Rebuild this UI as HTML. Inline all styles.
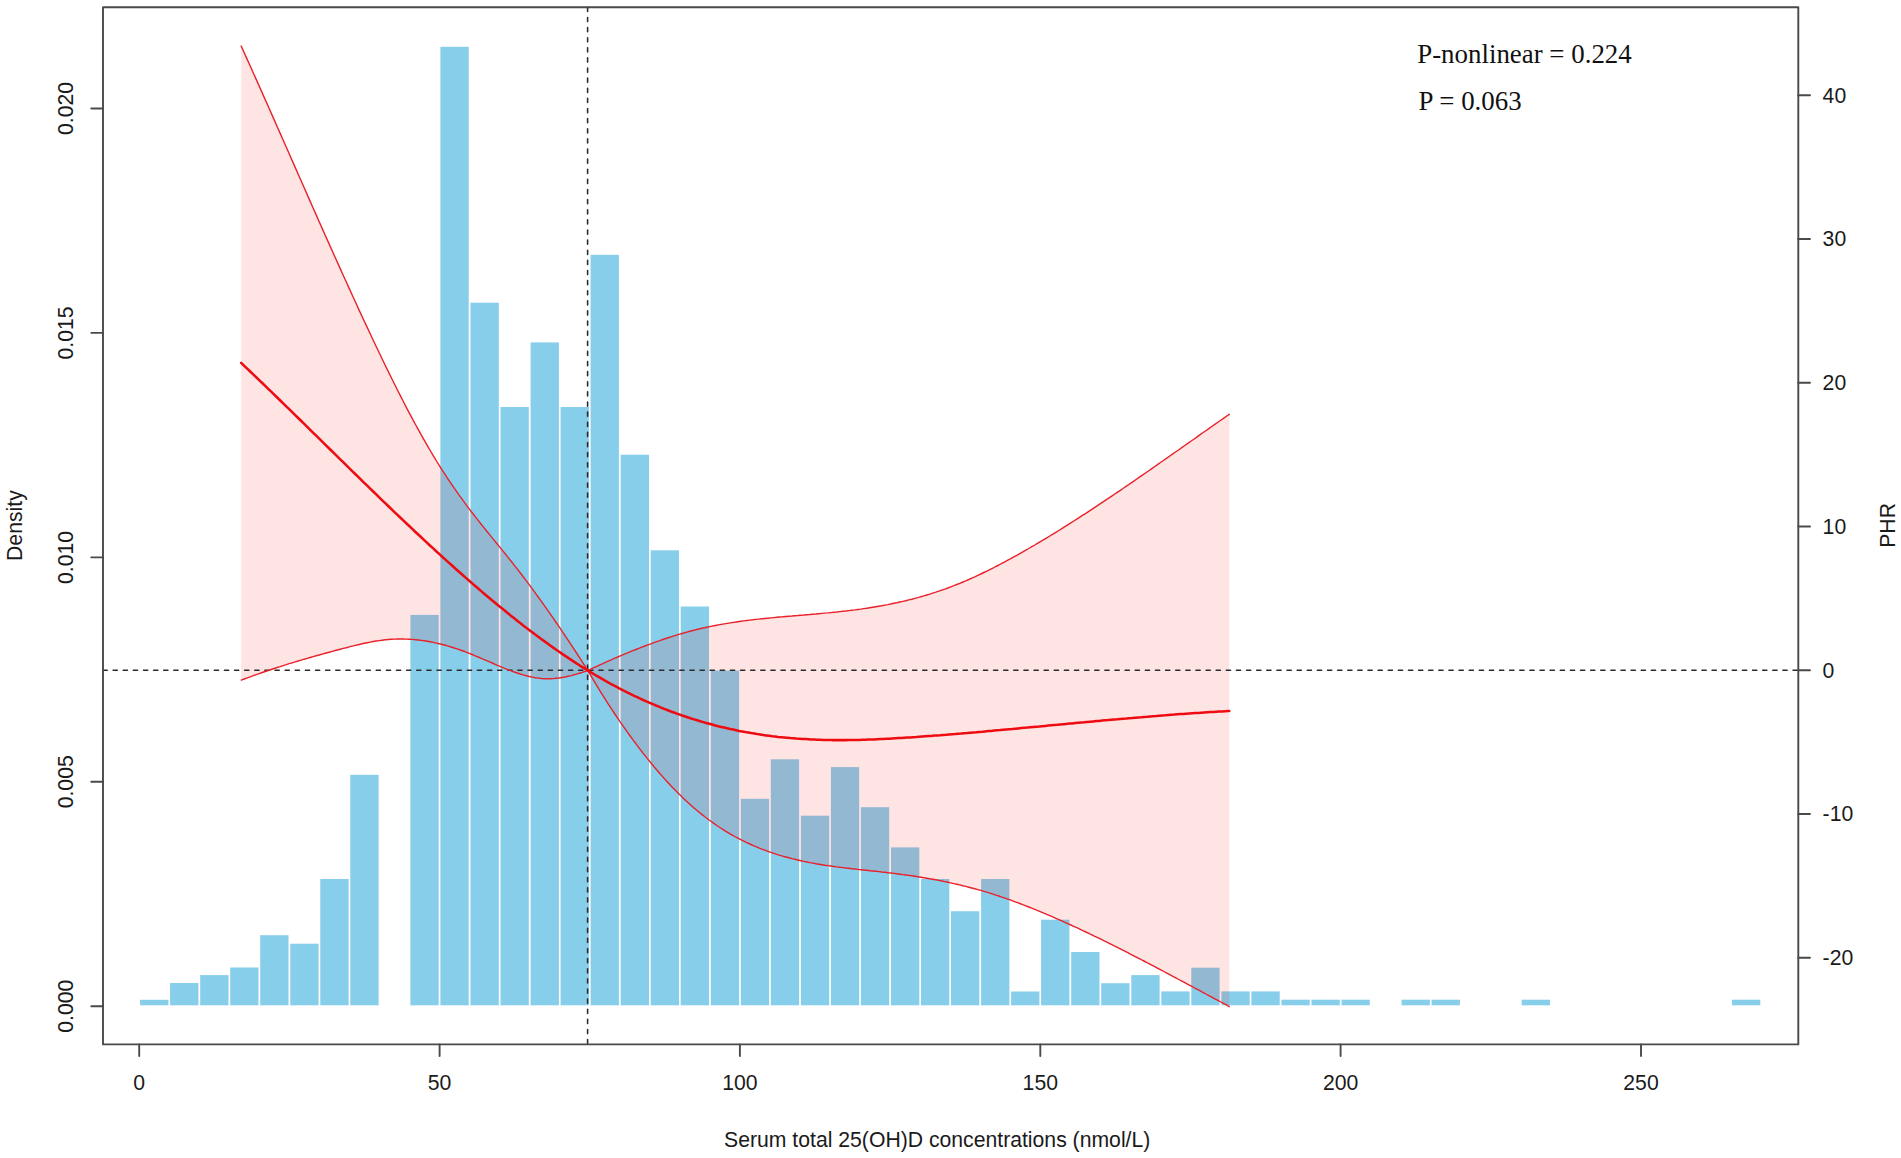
<!DOCTYPE html>
<html lang="en"><head><meta charset="utf-8"><title>RCS plot: serum total 25(OH)D vs PHR</title>
<style>
html,body{margin:0;padding:0;background:#fff;}
svg{display:block;width:1901px;height:1158px;}
.ax{font-family:"Liberation Sans",Arial,Helvetica,sans-serif;font-size:21.2px;fill:#1a1a1a;}
.note{font-family:"Liberation Serif","Times New Roman",Times,serif;font-size:26.9px;fill:#111;}
</style></head><body>
<svg width="1901" height="1158" viewBox="0 0 1901 1158">
<rect x="0" y="0" width="1901" height="1158" fill="#fff"/>
<g>
<g fill="#87ceeb">
<rect x="140.1" y="999.8" width="28.3" height="5.5"/>
<rect x="170.1" y="983.0" width="28.3" height="22.3"/>
<rect x="200.2" y="975.1" width="28.3" height="30.2"/>
<rect x="230.2" y="967.5" width="28.3" height="37.8"/>
<rect x="260.2" y="935.2" width="28.3" height="70.1"/>
<rect x="290.3" y="943.7" width="28.3" height="61.6"/>
<rect x="320.3" y="879.0" width="28.3" height="126.3"/>
<rect x="350.3" y="774.8" width="28.3" height="230.5"/>
<rect x="410.4" y="614.9" width="28.3" height="390.4"/>
<rect x="440.4" y="46.8" width="28.3" height="958.5"/>
<rect x="470.5" y="302.7" width="28.3" height="702.6"/>
<rect x="500.5" y="407.0" width="28.3" height="598.3"/>
<rect x="530.6" y="342.4" width="28.3" height="662.9"/>
<rect x="560.6" y="407.0" width="28.3" height="598.3"/>
<rect x="590.6" y="254.8" width="28.3" height="750.5"/>
<rect x="620.7" y="454.7" width="28.3" height="550.6"/>
<rect x="650.7" y="550.3" width="28.3" height="455.0"/>
<rect x="680.7" y="606.5" width="28.3" height="398.8"/>
<rect x="710.8" y="670.6" width="28.3" height="334.7"/>
<rect x="740.8" y="798.8" width="28.3" height="206.5"/>
<rect x="770.8" y="759.3" width="28.3" height="246.0"/>
<rect x="800.9" y="815.7" width="28.3" height="189.6"/>
<rect x="830.9" y="767.1" width="28.3" height="238.2"/>
<rect x="860.9" y="807.2" width="28.3" height="198.1"/>
<rect x="891.0" y="847.4" width="28.3" height="157.9"/>
<rect x="921.0" y="879.0" width="28.3" height="126.3"/>
<rect x="951.0" y="911.2" width="28.3" height="94.1"/>
<rect x="981.1" y="879.0" width="28.3" height="126.3"/>
<rect x="1011.1" y="991.5" width="28.3" height="13.8"/>
<rect x="1041.1" y="919.7" width="28.3" height="85.6"/>
<rect x="1071.2" y="952.0" width="28.3" height="53.3"/>
<rect x="1101.2" y="983.2" width="28.3" height="22.1"/>
<rect x="1131.3" y="975.1" width="28.3" height="30.2"/>
<rect x="1161.3" y="991.4" width="28.3" height="13.9"/>
<rect x="1191.3" y="967.7" width="28.3" height="37.6"/>
<rect x="1221.4" y="991.4" width="28.3" height="13.9"/>
<rect x="1251.4" y="991.4" width="28.3" height="13.9"/>
<rect x="1281.4" y="999.7" width="28.3" height="5.6"/>
<rect x="1311.5" y="999.7" width="28.3" height="5.6"/>
<rect x="1341.5" y="999.7" width="28.3" height="5.6"/>
<rect x="1401.6" y="999.7" width="28.3" height="5.6"/>
<rect x="1431.6" y="999.7" width="28.3" height="5.6"/>
<rect x="1521.7" y="999.7" width="28.3" height="5.6"/>
<rect x="1732.0" y="999.7" width="28.3" height="5.6"/>
</g>
<path d="M241.2,46.1 L244.2,52.7 L247.2,59.4 L250.2,66.0 L253.2,72.7 L256.2,79.4 L259.2,86.1 L262.2,92.9 L265.2,99.6 L268.2,106.3 L271.2,113.1 L274.2,119.9 L277.2,126.7 L280.2,133.4 L283.2,140.2 L286.2,147.0 L289.2,153.8 L292.2,160.6 L295.2,167.4 L298.2,174.2 L301.2,181.0 L304.2,187.8 L307.2,194.6 L310.2,201.4 L313.2,208.2 L316.2,214.9 L319.2,221.7 L322.2,228.4 L325.2,235.2 L328.2,241.9 L331.2,248.6 L334.2,255.3 L337.2,261.9 L340.2,268.6 L343.2,275.2 L346.2,281.8 L349.2,288.4 L352.2,295.0 L355.2,301.5 L358.2,308.1 L361.2,314.6 L364.2,321.0 L367.2,327.4 L370.2,333.8 L373.2,340.2 L376.2,346.5 L379.2,352.8 L382.2,359.0 L385.2,365.2 L388.2,371.4 L391.2,377.5 L394.2,383.5 L397.2,389.5 L400.2,395.4 L403.2,401.3 L406.2,407.1 L409.2,412.8 L412.2,418.4 L415.2,424.0 L418.2,429.4 L421.2,434.8 L424.2,440.1 L427.2,445.4 L430.2,450.5 L433.2,455.6 L436.2,460.5 L439.2,465.3 L442.2,470.1 L445.2,474.7 L448.2,479.3 L451.2,483.7 L454.2,488.1 L457.2,492.4 L460.2,496.6 L463.2,500.7 L466.2,504.8 L469.2,508.8 L472.2,512.7 L475.2,516.6 L478.2,520.4 L481.2,524.2 L484.2,527.9 L487.2,531.7 L490.2,535.4 L493.2,539.1 L496.2,542.7 L499.2,546.4 L502.2,550.1 L505.2,553.8 L508.2,557.6 L511.2,561.3 L514.2,565.1 L517.2,568.9 L520.2,572.8 L523.2,576.7 L526.2,580.7 L529.2,584.7 L532.2,588.7 L535.2,592.8 L538.2,597.0 L541.2,601.1 L544.2,605.3 L547.2,609.6 L550.2,613.8 L553.2,618.2 L556.2,622.5 L559.2,626.9 L562.2,631.3 L565.2,635.8 L568.2,640.3 L571.2,644.8 L574.2,649.4 L577.2,654.0 L580.2,658.6 L583.2,663.3 L586.2,668.0 L587.8,670.5 L590.8,669.1 L593.8,667.7 L596.8,666.3 L599.8,664.9 L602.8,663.6 L605.8,662.2 L608.8,660.9 L611.8,659.6 L614.8,658.2 L617.8,657.0 L620.8,655.7 L623.8,654.4 L626.8,653.2 L629.8,651.9 L632.8,650.7 L635.8,649.5 L638.8,648.3 L641.8,647.1 L644.8,646.0 L647.8,644.9 L650.8,643.8 L653.8,642.7 L656.8,641.6 L659.8,640.6 L662.8,639.5 L665.8,638.5 L668.8,637.5 L671.8,636.6 L674.8,635.6 L677.8,634.7 L680.8,633.8 L683.8,633.0 L686.8,632.1 L689.8,631.3 L692.8,630.5 L695.8,629.8 L698.8,629.0 L701.8,628.3 L704.8,627.7 L707.8,627.0 L710.8,626.4 L713.8,625.8 L716.8,625.2 L719.8,624.6 L722.8,624.1 L725.8,623.6 L728.8,623.1 L731.8,622.6 L734.8,622.2 L737.8,621.7 L740.8,621.3 L743.8,620.9 L746.8,620.5 L749.8,620.1 L752.8,619.8 L755.8,619.4 L758.8,619.1 L761.8,618.8 L764.8,618.5 L767.8,618.2 L770.8,617.9 L773.8,617.6 L776.8,617.3 L779.8,617.0 L782.8,616.8 L785.8,616.5 L788.8,616.2 L791.8,616.0 L794.8,615.7 L797.8,615.5 L800.8,615.2 L803.8,615.0 L806.8,614.7 L809.8,614.5 L812.8,614.2 L815.8,614.0 L818.8,613.7 L821.8,613.4 L824.8,613.1 L827.8,612.9 L830.8,612.6 L833.8,612.3 L836.8,612.0 L839.8,611.6 L842.8,611.3 L845.8,611.0 L848.8,610.6 L851.8,610.2 L854.8,609.9 L857.8,609.5 L860.8,609.1 L863.8,608.6 L866.8,608.2 L869.8,607.7 L872.8,607.2 L875.8,606.7 L878.8,606.2 L881.8,605.7 L884.8,605.1 L887.8,604.6 L890.8,604.0 L893.8,603.3 L896.8,602.7 L899.8,602.0 L902.8,601.4 L905.8,600.7 L908.8,599.9 L911.8,599.2 L914.8,598.4 L917.8,597.6 L920.8,596.7 L923.8,595.9 L926.8,595.0 L929.8,594.1 L932.8,593.1 L935.8,592.2 L938.8,591.2 L941.8,590.1 L944.8,589.1 L947.8,588.0 L950.8,586.8 L953.8,585.7 L956.8,584.5 L959.8,583.3 L962.8,582.0 L965.8,580.8 L968.8,579.5 L971.8,578.1 L974.8,576.8 L977.8,575.4 L980.8,574.0 L983.8,572.5 L986.8,571.1 L989.8,569.6 L992.8,568.1 L995.8,566.5 L998.8,565.0 L1001.8,563.4 L1004.8,561.8 L1007.8,560.2 L1010.8,558.6 L1013.8,556.9 L1016.8,555.3 L1019.8,553.6 L1022.8,551.9 L1025.8,550.2 L1028.8,548.5 L1031.8,546.7 L1034.8,545.0 L1037.8,543.2 L1040.8,541.4 L1043.8,539.6 L1046.8,537.8 L1049.8,536.0 L1052.8,534.2 L1055.8,532.3 L1058.8,530.5 L1061.8,528.6 L1064.8,526.7 L1067.8,524.8 L1070.8,522.9 L1073.8,521.0 L1076.8,519.1 L1079.8,517.2 L1082.8,515.2 L1085.8,513.3 L1088.8,511.3 L1091.8,509.4 L1094.8,507.4 L1097.8,505.4 L1100.8,503.4 L1103.8,501.4 L1106.8,499.4 L1109.8,497.4 L1112.8,495.4 L1115.8,493.3 L1118.8,491.3 L1121.8,489.3 L1124.8,487.2 L1127.8,485.2 L1130.8,483.1 L1133.8,481.1 L1136.8,479.0 L1139.8,476.9 L1142.8,474.9 L1145.8,472.8 L1148.8,470.7 L1151.8,468.6 L1154.8,466.5 L1157.8,464.4 L1160.8,462.3 L1163.8,460.2 L1166.8,458.1 L1169.8,456.0 L1172.8,453.9 L1175.8,451.8 L1178.8,449.7 L1181.8,447.6 L1184.8,445.5 L1187.8,443.4 L1190.8,441.3 L1193.8,439.2 L1196.8,437.1 L1199.8,434.9 L1202.8,432.8 L1205.8,430.7 L1208.8,428.6 L1211.8,426.5 L1214.8,424.4 L1217.8,422.3 L1220.8,420.2 L1223.8,418.1 L1226.8,416.0 L1229.3,414.3 L1229.3,1006.6 L1226.8,1005.2 L1223.8,1003.6 L1220.8,1002.0 L1217.8,1000.4 L1214.8,998.8 L1211.8,997.2 L1208.8,995.6 L1205.8,994.0 L1202.8,992.3 L1199.8,990.7 L1196.8,989.1 L1193.8,987.5 L1190.8,985.9 L1187.8,984.3 L1184.8,982.7 L1181.8,981.1 L1178.8,979.5 L1175.8,977.9 L1172.8,976.3 L1169.8,974.7 L1166.8,973.1 L1163.8,971.5 L1160.8,969.9 L1157.8,968.3 L1154.8,966.7 L1151.8,965.2 L1148.8,963.6 L1145.8,962.0 L1142.8,960.5 L1139.8,958.9 L1136.8,957.3 L1133.8,955.8 L1130.8,954.3 L1127.8,952.7 L1124.8,951.2 L1121.8,949.7 L1118.8,948.1 L1115.8,946.6 L1112.8,945.1 L1109.8,943.6 L1106.8,942.1 L1103.8,940.7 L1100.8,939.2 L1097.8,937.7 L1094.8,936.3 L1091.8,934.8 L1088.8,933.4 L1085.8,932.0 L1082.8,930.6 L1079.8,929.1 L1076.8,927.7 L1073.8,926.4 L1070.8,925.0 L1067.8,923.6 L1064.8,922.3 L1061.8,920.9 L1058.8,919.6 L1055.8,918.3 L1052.8,916.9 L1049.8,915.6 L1046.8,914.4 L1043.8,913.1 L1040.8,911.8 L1037.8,910.6 L1034.8,909.4 L1031.8,908.2 L1028.8,907.0 L1025.8,905.8 L1022.8,904.7 L1019.8,903.5 L1016.8,902.4 L1013.8,901.3 L1010.8,900.2 L1007.8,899.1 L1004.8,898.1 L1001.8,897.1 L998.8,896.0 L995.8,895.1 L992.8,894.1 L989.8,893.1 L986.8,892.2 L983.8,891.3 L980.8,890.4 L977.8,889.6 L974.8,888.8 L971.8,888.0 L968.8,887.2 L965.8,886.4 L962.8,885.7 L959.8,884.9 L956.8,884.2 L953.8,883.6 L950.8,882.9 L947.8,882.2 L944.8,881.6 L941.8,881.0 L938.8,880.4 L935.8,879.8 L932.8,879.3 L929.8,878.8 L926.8,878.2 L923.8,877.7 L920.8,877.2 L917.8,876.8 L914.8,876.3 L911.8,875.8 L908.8,875.4 L905.8,875.0 L902.8,874.6 L899.8,874.2 L896.8,873.8 L893.8,873.4 L890.8,873.0 L887.8,872.7 L884.8,872.3 L881.8,872.0 L878.8,871.6 L875.8,871.3 L872.8,871.0 L869.8,870.7 L866.8,870.3 L863.8,870.0 L860.8,869.7 L857.8,869.4 L854.8,869.0 L851.8,868.7 L848.8,868.3 L845.8,868.0 L842.8,867.6 L839.8,867.2 L836.8,866.9 L833.8,866.5 L830.8,866.0 L827.8,865.6 L824.8,865.2 L821.8,864.7 L818.8,864.2 L815.8,863.7 L812.8,863.1 L809.8,862.6 L806.8,862.0 L803.8,861.4 L800.8,860.7 L797.8,860.0 L794.8,859.3 L791.8,858.6 L788.8,857.8 L785.8,857.0 L782.8,856.2 L779.8,855.3 L776.8,854.4 L773.8,853.4 L770.8,852.4 L767.8,851.3 L764.8,850.2 L761.8,849.1 L758.8,847.9 L755.8,846.7 L752.8,845.4 L749.8,844.0 L746.8,842.6 L743.8,841.2 L740.8,839.7 L737.8,838.1 L734.8,836.5 L731.8,834.8 L728.8,833.1 L725.8,831.3 L722.8,829.4 L719.8,827.5 L716.8,825.5 L713.8,823.4 L710.8,821.2 L707.8,819.0 L704.8,816.8 L701.8,814.4 L698.8,812.0 L695.8,809.5 L692.8,806.9 L689.8,804.2 L686.8,801.5 L683.8,798.7 L680.8,795.8 L677.8,792.8 L674.8,789.8 L671.8,786.7 L668.8,783.5 L665.8,780.2 L662.8,776.9 L659.8,773.5 L656.8,770.0 L653.8,766.5 L650.8,762.8 L647.8,759.1 L644.8,755.4 L641.8,751.6 L638.8,747.7 L635.8,743.7 L632.8,739.7 L629.8,735.5 L626.8,731.4 L623.8,727.1 L620.8,722.8 L617.8,718.4 L614.8,714.0 L611.8,709.4 L608.8,704.8 L605.8,700.2 L602.8,695.4 L599.8,690.6 L596.8,685.7 L593.8,680.7 L590.8,675.6 L587.8,670.5 L586.2,671.1 L583.2,672.1 L580.2,673.0 L577.2,673.9 L574.2,674.8 L571.2,675.6 L568.2,676.3 L565.2,677.0 L562.2,677.5 L559.2,678.0 L556.2,678.3 L553.2,678.6 L550.2,678.7 L547.2,678.8 L544.2,678.7 L541.2,678.5 L538.2,678.1 L535.2,677.7 L532.2,677.1 L529.2,676.5 L526.2,675.7 L523.2,674.9 L520.2,674.0 L517.2,673.0 L514.2,672.0 L511.2,670.9 L508.2,669.8 L505.2,668.6 L502.2,667.4 L499.2,666.1 L496.2,664.8 L493.2,663.5 L490.2,662.2 L487.2,660.9 L484.2,659.6 L481.2,658.3 L478.2,657.0 L475.2,655.8 L472.2,654.5 L469.2,653.3 L466.2,652.2 L463.2,651.0 L460.2,650.0 L457.2,648.9 L454.2,648.0 L451.2,647.0 L448.2,646.1 L445.2,645.3 L442.2,644.5 L439.2,643.8 L436.2,643.1 L433.2,642.4 L430.2,641.8 L427.2,641.3 L424.2,640.8 L421.2,640.4 L418.2,640.0 L415.2,639.7 L412.2,639.4 L409.2,639.2 L406.2,639.1 L403.2,639.0 L400.2,639.0 L397.2,639.0 L394.2,639.1 L391.2,639.3 L388.2,639.5 L385.2,639.8 L382.2,640.2 L379.2,640.6 L376.2,641.0 L373.2,641.5 L370.2,642.1 L367.2,642.7 L364.2,643.3 L361.2,644.0 L358.2,644.7 L355.2,645.4 L352.2,646.1 L349.2,646.9 L346.2,647.7 L343.2,648.4 L340.2,649.2 L337.2,650.0 L334.2,650.8 L331.2,651.7 L328.2,652.5 L325.2,653.3 L322.2,654.1 L319.2,655.0 L316.2,655.8 L313.2,656.6 L310.2,657.5 L307.2,658.4 L304.2,659.2 L301.2,660.1 L298.2,661.0 L295.2,661.9 L292.2,662.8 L289.2,663.7 L286.2,664.7 L283.2,665.6 L280.2,666.6 L277.2,667.5 L274.2,668.5 L271.2,669.5 L268.2,670.5 L265.2,671.5 L262.2,672.5 L259.2,673.6 L256.2,674.6 L253.2,675.7 L250.2,676.8 L247.2,677.9 L244.2,679.0 L241.2,680.1Z" fill="#ff0000" fill-opacity="0.105" stroke="none"/>
<g stroke="#2b2b2e" stroke-width="1.57" fill="none" stroke-dasharray="4.20 5.92" stroke-linecap="round">
<line x1="103.0" y1="670.3" x2="1798.3" y2="670.3"/>
<line x1="587.6" y1="7.3" x2="587.6" y2="1044.4"/>
</g>
<g fill="none" stroke="#e8222a" stroke-linejoin="round" stroke-linecap="round">
<path d="M241.2,46.1 L244.2,52.7 L247.2,59.4 L250.2,66.0 L253.2,72.7 L256.2,79.4 L259.2,86.1 L262.2,92.9 L265.2,99.6 L268.2,106.3 L271.2,113.1 L274.2,119.9 L277.2,126.7 L280.2,133.4 L283.2,140.2 L286.2,147.0 L289.2,153.8 L292.2,160.6 L295.2,167.4 L298.2,174.2 L301.2,181.0 L304.2,187.8 L307.2,194.6 L310.2,201.4 L313.2,208.2 L316.2,214.9 L319.2,221.7 L322.2,228.4 L325.2,235.2 L328.2,241.9 L331.2,248.6 L334.2,255.3 L337.2,261.9 L340.2,268.6 L343.2,275.2 L346.2,281.8 L349.2,288.4 L352.2,295.0 L355.2,301.5 L358.2,308.1 L361.2,314.6 L364.2,321.0 L367.2,327.4 L370.2,333.8 L373.2,340.2 L376.2,346.5 L379.2,352.8 L382.2,359.0 L385.2,365.2 L388.2,371.4 L391.2,377.5 L394.2,383.5 L397.2,389.5 L400.2,395.4 L403.2,401.3 L406.2,407.1 L409.2,412.8 L412.2,418.4 L415.2,424.0 L418.2,429.4 L421.2,434.8 L424.2,440.1 L427.2,445.4 L430.2,450.5 L433.2,455.6 L436.2,460.5 L439.2,465.3 L442.2,470.1 L445.2,474.7 L448.2,479.3 L451.2,483.7 L454.2,488.1 L457.2,492.4 L460.2,496.6 L463.2,500.7 L466.2,504.8 L469.2,508.8 L472.2,512.7 L475.2,516.6 L478.2,520.4 L481.2,524.2 L484.2,527.9 L487.2,531.7 L490.2,535.4 L493.2,539.1 L496.2,542.7 L499.2,546.4 L502.2,550.1 L505.2,553.8 L508.2,557.6 L511.2,561.3 L514.2,565.1 L517.2,568.9 L520.2,572.8 L523.2,576.7 L526.2,580.7 L529.2,584.7 L532.2,588.7 L535.2,592.8 L538.2,597.0 L541.2,601.1 L544.2,605.3 L547.2,609.6 L550.2,613.8 L553.2,618.2 L556.2,622.5 L559.2,626.9 L562.2,631.3 L565.2,635.8 L568.2,640.3 L571.2,644.8 L574.2,649.4 L577.2,654.0 L580.2,658.6 L583.2,663.3 L586.2,668.0 L587.8,670.5 L590.8,669.1 L593.8,667.7 L596.8,666.3 L599.8,664.9 L602.8,663.6 L605.8,662.2 L608.8,660.9 L611.8,659.6 L614.8,658.2 L617.8,657.0 L620.8,655.7 L623.8,654.4 L626.8,653.2 L629.8,651.9 L632.8,650.7 L635.8,649.5 L638.8,648.3 L641.8,647.1 L644.8,646.0 L647.8,644.9 L650.8,643.8 L653.8,642.7 L656.8,641.6 L659.8,640.6 L662.8,639.5 L665.8,638.5 L668.8,637.5 L671.8,636.6 L674.8,635.6 L677.8,634.7 L680.8,633.8 L683.8,633.0 L686.8,632.1 L689.8,631.3 L692.8,630.5 L695.8,629.8 L698.8,629.0 L701.8,628.3 L704.8,627.7 L707.8,627.0 L710.8,626.4 L713.8,625.8 L716.8,625.2 L719.8,624.6 L722.8,624.1 L725.8,623.6 L728.8,623.1 L731.8,622.6 L734.8,622.2 L737.8,621.7 L740.8,621.3 L743.8,620.9 L746.8,620.5 L749.8,620.1 L752.8,619.8 L755.8,619.4 L758.8,619.1 L761.8,618.8 L764.8,618.5 L767.8,618.2 L770.8,617.9 L773.8,617.6 L776.8,617.3 L779.8,617.0 L782.8,616.8 L785.8,616.5 L788.8,616.2 L791.8,616.0 L794.8,615.7 L797.8,615.5 L800.8,615.2 L803.8,615.0 L806.8,614.7 L809.8,614.5 L812.8,614.2 L815.8,614.0 L818.8,613.7 L821.8,613.4 L824.8,613.1 L827.8,612.9 L830.8,612.6 L833.8,612.3 L836.8,612.0 L839.8,611.6 L842.8,611.3 L845.8,611.0 L848.8,610.6 L851.8,610.2 L854.8,609.9 L857.8,609.5 L860.8,609.1 L863.8,608.6 L866.8,608.2 L869.8,607.7 L872.8,607.2 L875.8,606.7 L878.8,606.2 L881.8,605.7 L884.8,605.1 L887.8,604.6 L890.8,604.0 L893.8,603.3 L896.8,602.7 L899.8,602.0 L902.8,601.4 L905.8,600.7 L908.8,599.9 L911.8,599.2 L914.8,598.4 L917.8,597.6 L920.8,596.7 L923.8,595.9 L926.8,595.0 L929.8,594.1 L932.8,593.1 L935.8,592.2 L938.8,591.2 L941.8,590.1 L944.8,589.1 L947.8,588.0 L950.8,586.8 L953.8,585.7 L956.8,584.5 L959.8,583.3 L962.8,582.0 L965.8,580.8 L968.8,579.5 L971.8,578.1 L974.8,576.8 L977.8,575.4 L980.8,574.0 L983.8,572.5 L986.8,571.1 L989.8,569.6 L992.8,568.1 L995.8,566.5 L998.8,565.0 L1001.8,563.4 L1004.8,561.8 L1007.8,560.2 L1010.8,558.6 L1013.8,556.9 L1016.8,555.3 L1019.8,553.6 L1022.8,551.9 L1025.8,550.2 L1028.8,548.5 L1031.8,546.7 L1034.8,545.0 L1037.8,543.2 L1040.8,541.4 L1043.8,539.6 L1046.8,537.8 L1049.8,536.0 L1052.8,534.2 L1055.8,532.3 L1058.8,530.5 L1061.8,528.6 L1064.8,526.7 L1067.8,524.8 L1070.8,522.9 L1073.8,521.0 L1076.8,519.1 L1079.8,517.2 L1082.8,515.2 L1085.8,513.3 L1088.8,511.3 L1091.8,509.4 L1094.8,507.4 L1097.8,505.4 L1100.8,503.4 L1103.8,501.4 L1106.8,499.4 L1109.8,497.4 L1112.8,495.4 L1115.8,493.3 L1118.8,491.3 L1121.8,489.3 L1124.8,487.2 L1127.8,485.2 L1130.8,483.1 L1133.8,481.1 L1136.8,479.0 L1139.8,476.9 L1142.8,474.9 L1145.8,472.8 L1148.8,470.7 L1151.8,468.6 L1154.8,466.5 L1157.8,464.4 L1160.8,462.3 L1163.8,460.2 L1166.8,458.1 L1169.8,456.0 L1172.8,453.9 L1175.8,451.8 L1178.8,449.7 L1181.8,447.6 L1184.8,445.5 L1187.8,443.4 L1190.8,441.3 L1193.8,439.2 L1196.8,437.1 L1199.8,434.9 L1202.8,432.8 L1205.8,430.7 L1208.8,428.6 L1211.8,426.5 L1214.8,424.4 L1217.8,422.3 L1220.8,420.2 L1223.8,418.1 L1226.8,416.0 L1229.3,414.3" stroke-width="1.4"/>
<path d="M241.2,680.1 L244.2,679.0 L247.2,677.9 L250.2,676.8 L253.2,675.7 L256.2,674.6 L259.2,673.6 L262.2,672.5 L265.2,671.5 L268.2,670.5 L271.2,669.5 L274.2,668.5 L277.2,667.5 L280.2,666.6 L283.2,665.6 L286.2,664.7 L289.2,663.7 L292.2,662.8 L295.2,661.9 L298.2,661.0 L301.2,660.1 L304.2,659.2 L307.2,658.4 L310.2,657.5 L313.2,656.6 L316.2,655.8 L319.2,655.0 L322.2,654.1 L325.2,653.3 L328.2,652.5 L331.2,651.7 L334.2,650.8 L337.2,650.0 L340.2,649.2 L343.2,648.4 L346.2,647.7 L349.2,646.9 L352.2,646.1 L355.2,645.4 L358.2,644.7 L361.2,644.0 L364.2,643.3 L367.2,642.7 L370.2,642.1 L373.2,641.5 L376.2,641.0 L379.2,640.6 L382.2,640.2 L385.2,639.8 L388.2,639.5 L391.2,639.3 L394.2,639.1 L397.2,639.0 L400.2,639.0 L403.2,639.0 L406.2,639.1 L409.2,639.2 L412.2,639.4 L415.2,639.7 L418.2,640.0 L421.2,640.4 L424.2,640.8 L427.2,641.3 L430.2,641.8 L433.2,642.4 L436.2,643.1 L439.2,643.8 L442.2,644.5 L445.2,645.3 L448.2,646.1 L451.2,647.0 L454.2,648.0 L457.2,648.9 L460.2,650.0 L463.2,651.0 L466.2,652.2 L469.2,653.3 L472.2,654.5 L475.2,655.8 L478.2,657.0 L481.2,658.3 L484.2,659.6 L487.2,660.9 L490.2,662.2 L493.2,663.5 L496.2,664.8 L499.2,666.1 L502.2,667.4 L505.2,668.6 L508.2,669.8 L511.2,670.9 L514.2,672.0 L517.2,673.0 L520.2,674.0 L523.2,674.9 L526.2,675.7 L529.2,676.5 L532.2,677.1 L535.2,677.7 L538.2,678.1 L541.2,678.5 L544.2,678.7 L547.2,678.8 L550.2,678.7 L553.2,678.6 L556.2,678.3 L559.2,678.0 L562.2,677.5 L565.2,677.0 L568.2,676.3 L571.2,675.6 L574.2,674.8 L577.2,673.9 L580.2,673.0 L583.2,672.1 L586.2,671.1 L587.8,670.5 L590.8,675.6 L593.8,680.7 L596.8,685.7 L599.8,690.6 L602.8,695.4 L605.8,700.2 L608.8,704.8 L611.8,709.4 L614.8,714.0 L617.8,718.4 L620.8,722.8 L623.8,727.1 L626.8,731.4 L629.8,735.5 L632.8,739.7 L635.8,743.7 L638.8,747.7 L641.8,751.6 L644.8,755.4 L647.8,759.1 L650.8,762.8 L653.8,766.5 L656.8,770.0 L659.8,773.5 L662.8,776.9 L665.8,780.2 L668.8,783.5 L671.8,786.7 L674.8,789.8 L677.8,792.8 L680.8,795.8 L683.8,798.7 L686.8,801.5 L689.8,804.2 L692.8,806.9 L695.8,809.5 L698.8,812.0 L701.8,814.4 L704.8,816.8 L707.8,819.0 L710.8,821.2 L713.8,823.4 L716.8,825.5 L719.8,827.5 L722.8,829.4 L725.8,831.3 L728.8,833.1 L731.8,834.8 L734.8,836.5 L737.8,838.1 L740.8,839.7 L743.8,841.2 L746.8,842.6 L749.8,844.0 L752.8,845.4 L755.8,846.7 L758.8,847.9 L761.8,849.1 L764.8,850.2 L767.8,851.3 L770.8,852.4 L773.8,853.4 L776.8,854.4 L779.8,855.3 L782.8,856.2 L785.8,857.0 L788.8,857.8 L791.8,858.6 L794.8,859.3 L797.8,860.0 L800.8,860.7 L803.8,861.4 L806.8,862.0 L809.8,862.6 L812.8,863.1 L815.8,863.7 L818.8,864.2 L821.8,864.7 L824.8,865.2 L827.8,865.6 L830.8,866.0 L833.8,866.5 L836.8,866.9 L839.8,867.2 L842.8,867.6 L845.8,868.0 L848.8,868.3 L851.8,868.7 L854.8,869.0 L857.8,869.4 L860.8,869.7 L863.8,870.0 L866.8,870.3 L869.8,870.7 L872.8,871.0 L875.8,871.3 L878.8,871.6 L881.8,872.0 L884.8,872.3 L887.8,872.7 L890.8,873.0 L893.8,873.4 L896.8,873.8 L899.8,874.2 L902.8,874.6 L905.8,875.0 L908.8,875.4 L911.8,875.8 L914.8,876.3 L917.8,876.8 L920.8,877.2 L923.8,877.7 L926.8,878.2 L929.8,878.8 L932.8,879.3 L935.8,879.8 L938.8,880.4 L941.8,881.0 L944.8,881.6 L947.8,882.2 L950.8,882.9 L953.8,883.6 L956.8,884.2 L959.8,884.9 L962.8,885.7 L965.8,886.4 L968.8,887.2 L971.8,888.0 L974.8,888.8 L977.8,889.6 L980.8,890.4 L983.8,891.3 L986.8,892.2 L989.8,893.1 L992.8,894.1 L995.8,895.1 L998.8,896.0 L1001.8,897.1 L1004.8,898.1 L1007.8,899.1 L1010.8,900.2 L1013.8,901.3 L1016.8,902.4 L1019.8,903.5 L1022.8,904.7 L1025.8,905.8 L1028.8,907.0 L1031.8,908.2 L1034.8,909.4 L1037.8,910.6 L1040.8,911.8 L1043.8,913.1 L1046.8,914.4 L1049.8,915.6 L1052.8,916.9 L1055.8,918.3 L1058.8,919.6 L1061.8,920.9 L1064.8,922.3 L1067.8,923.6 L1070.8,925.0 L1073.8,926.4 L1076.8,927.7 L1079.8,929.1 L1082.8,930.6 L1085.8,932.0 L1088.8,933.4 L1091.8,934.8 L1094.8,936.3 L1097.8,937.7 L1100.8,939.2 L1103.8,940.7 L1106.8,942.1 L1109.8,943.6 L1112.8,945.1 L1115.8,946.6 L1118.8,948.1 L1121.8,949.7 L1124.8,951.2 L1127.8,952.7 L1130.8,954.3 L1133.8,955.8 L1136.8,957.3 L1139.8,958.9 L1142.8,960.5 L1145.8,962.0 L1148.8,963.6 L1151.8,965.2 L1154.8,966.7 L1157.8,968.3 L1160.8,969.9 L1163.8,971.5 L1166.8,973.1 L1169.8,974.7 L1172.8,976.3 L1175.8,977.9 L1178.8,979.5 L1181.8,981.1 L1184.8,982.7 L1187.8,984.3 L1190.8,985.9 L1193.8,987.5 L1196.8,989.1 L1199.8,990.7 L1202.8,992.3 L1205.8,994.0 L1208.8,995.6 L1211.8,997.2 L1214.8,998.8 L1217.8,1000.4 L1220.8,1002.0 L1223.8,1003.6 L1226.8,1005.2 L1229.3,1006.6" stroke-width="1.4"/>
<path d="M241.2,362.9 L244.2,365.8 L247.2,368.6 L250.2,371.5 L253.2,374.4 L256.2,377.2 L259.2,380.1 L262.2,383.0 L265.2,385.9 L268.2,388.8 L271.2,391.7 L274.2,394.6 L277.2,397.5 L280.2,400.5 L283.2,403.4 L286.2,406.3 L289.2,409.2 L292.2,412.2 L295.2,415.1 L298.2,418.0 L301.2,421.0 L304.2,423.9 L307.2,426.9 L310.2,429.8 L313.2,432.8 L316.2,435.7 L319.2,438.7 L322.2,441.6 L325.2,444.6 L328.2,447.5 L331.2,450.5 L334.2,453.4 L337.2,456.4 L340.2,459.3 L343.2,462.2 L346.2,465.2 L349.2,468.1 L352.2,471.1 L355.2,474.0 L358.2,476.9 L361.2,479.9 L364.2,482.8 L367.2,485.7 L370.2,488.6 L373.2,491.5 L376.2,494.4 L379.2,497.4 L382.2,500.3 L385.2,503.1 L388.2,506.0 L391.2,508.9 L394.2,511.8 L397.2,514.7 L400.2,517.5 L403.2,520.4 L406.2,523.2 L409.2,526.0 L412.2,528.9 L415.2,531.7 L418.2,534.5 L421.2,537.3 L424.2,540.1 L427.2,542.9 L430.2,545.7 L433.2,548.4 L436.2,551.2 L439.2,553.9 L442.2,556.7 L445.2,559.4 L448.2,562.1 L451.2,564.8 L454.2,567.5 L457.2,570.2 L460.2,572.8 L463.2,575.5 L466.2,578.1 L469.2,580.7 L472.2,583.4 L475.2,586.0 L478.2,588.5 L481.2,591.1 L484.2,593.7 L487.2,596.2 L490.2,598.7 L493.2,601.2 L496.2,603.7 L499.2,606.2 L502.2,608.6 L505.2,611.1 L508.2,613.5 L511.2,615.9 L514.2,618.3 L517.2,620.7 L520.2,623.0 L523.2,625.4 L526.2,627.7 L529.2,630.0 L532.2,632.2 L535.2,634.5 L538.2,636.7 L541.2,639.0 L544.2,641.1 L547.2,643.3 L550.2,645.5 L553.2,647.6 L556.2,649.7 L559.2,651.8 L562.2,653.9 L565.2,655.9 L568.2,657.9 L571.2,659.9 L574.2,661.9 L577.2,663.8 L580.2,665.8 L583.2,667.6 L586.2,669.5 L589.2,671.4 L592.2,673.2 L595.2,675.0 L598.2,676.7 L601.2,678.4 L604.2,680.2 L607.2,681.8 L610.2,683.5 L613.2,685.1 L616.2,686.7 L619.2,688.3 L622.2,689.8 L625.2,691.4 L628.2,692.9 L631.2,694.3 L634.2,695.8 L637.2,697.2 L640.2,698.6 L643.2,700.0 L646.2,701.3 L649.2,702.6 L652.2,703.9 L655.2,705.2 L658.2,706.4 L661.2,707.7 L664.2,708.9 L667.2,710.0 L670.2,711.2 L673.2,712.3 L676.2,713.4 L679.2,714.4 L682.2,715.5 L685.2,716.5 L688.2,717.5 L691.2,718.5 L694.2,719.4 L697.2,720.3 L700.2,721.2 L703.2,722.1 L706.2,723.0 L709.2,723.8 L712.2,724.6 L715.2,725.4 L718.2,726.2 L721.2,726.9 L724.2,727.6 L727.2,728.3 L730.2,729.0 L733.2,729.6 L736.2,730.2 L739.2,730.9 L742.2,731.4 L745.2,732.0 L748.2,732.5 L751.2,733.1 L754.2,733.6 L757.2,734.1 L760.2,734.5 L763.2,735.0 L766.2,735.4 L769.2,735.8 L772.2,736.2 L775.2,736.5 L778.2,736.9 L781.2,737.2 L784.2,737.5 L787.2,737.8 L790.2,738.1 L793.2,738.3 L796.2,738.6 L799.2,738.8 L802.2,739.0 L805.2,739.1 L808.2,739.3 L811.2,739.5 L814.2,739.6 L817.2,739.7 L820.2,739.8 L823.2,739.9 L826.2,740.0 L829.2,740.0 L832.2,740.1 L835.2,740.1 L838.2,740.1 L841.2,740.1 L844.2,740.1 L847.2,740.1 L850.2,740.0 L853.2,740.0 L856.2,739.9 L859.2,739.9 L862.2,739.8 L865.2,739.7 L868.2,739.6 L871.2,739.5 L874.2,739.4 L877.2,739.2 L880.2,739.1 L883.2,739.0 L886.2,738.8 L889.2,738.7 L892.2,738.5 L895.2,738.3 L898.2,738.1 L901.2,738.0 L904.2,737.8 L907.2,737.6 L910.2,737.4 L913.2,737.2 L916.2,737.0 L919.2,736.7 L922.2,736.5 L925.2,736.3 L928.2,736.1 L931.2,735.9 L934.2,735.6 L937.2,735.4 L940.2,735.2 L943.2,734.9 L946.2,734.7 L949.2,734.4 L952.2,734.2 L955.2,734.0 L958.2,733.7 L961.2,733.5 L964.2,733.2 L967.2,733.0 L970.2,732.7 L973.2,732.4 L976.2,732.2 L979.2,731.9 L982.2,731.7 L985.2,731.4 L988.2,731.1 L991.2,730.9 L994.2,730.6 L997.2,730.3 L1000.2,730.1 L1003.2,729.8 L1006.2,729.5 L1009.2,729.2 L1012.2,729.0 L1015.2,728.7 L1018.2,728.4 L1021.2,728.1 L1024.2,727.8 L1027.2,727.6 L1030.2,727.3 L1033.2,727.0 L1036.2,726.7 L1039.2,726.5 L1042.2,726.2 L1045.2,725.9 L1048.2,725.6 L1051.2,725.3 L1054.2,725.0 L1057.2,724.8 L1060.2,724.5 L1063.2,724.2 L1066.2,723.9 L1069.2,723.6 L1072.2,723.4 L1075.2,723.1 L1078.2,722.8 L1081.2,722.5 L1084.2,722.3 L1087.2,722.0 L1090.2,721.7 L1093.2,721.4 L1096.2,721.1 L1099.2,720.9 L1102.2,720.6 L1105.2,720.3 L1108.2,720.1 L1111.2,719.8 L1114.2,719.5 L1117.2,719.3 L1120.2,719.0 L1123.2,718.7 L1126.2,718.5 L1129.2,718.2 L1132.2,718.0 L1135.2,717.7 L1138.2,717.4 L1141.2,717.2 L1144.2,716.9 L1147.2,716.7 L1150.2,716.4 L1153.2,716.2 L1156.2,716.0 L1159.2,715.7 L1162.2,715.5 L1165.2,715.3 L1168.2,715.0 L1171.2,714.8 L1174.2,714.6 L1177.2,714.3 L1180.2,714.1 L1183.2,713.9 L1186.2,713.7 L1189.2,713.5 L1192.2,713.3 L1195.2,713.1 L1198.2,712.9 L1201.2,712.7 L1204.2,712.5 L1207.2,712.3 L1210.2,712.1 L1213.2,711.9 L1216.2,711.7 L1219.2,711.5 L1222.2,711.4 L1225.2,711.2 L1228.2,711.0 L1229.3,711.0" stroke-width="2.55" stroke="#ee0c12"/>
</g>
<g stroke="#4a4a4a" stroke-width="1.9" fill="none" stroke-linecap="round" stroke-linejoin="round">
<rect x="103.0" y="7.3" width="1695.3" height="1037.1"/>
<line x1="139.2" y1="1044.4" x2="139.2" y2="1056.1"/>
<line x1="439.6" y1="1044.4" x2="439.6" y2="1056.1"/>
<line x1="739.9" y1="1044.4" x2="739.9" y2="1056.1"/>
<line x1="1040.3" y1="1044.4" x2="1040.3" y2="1056.1"/>
<line x1="1340.6" y1="1044.4" x2="1340.6" y2="1056.1"/>
<line x1="1641.0" y1="1044.4" x2="1641.0" y2="1056.1"/>
<line x1="103.0" y1="1006.2" x2="91.3" y2="1006.2"/>
<line x1="103.0" y1="781.8" x2="91.3" y2="781.8"/>
<line x1="103.0" y1="557.4" x2="91.3" y2="557.4"/>
<line x1="103.0" y1="332.9" x2="91.3" y2="332.9"/>
<line x1="103.0" y1="108.5" x2="91.3" y2="108.5"/>
<line x1="1798.3" y1="957.8" x2="1810.0" y2="957.8"/>
<line x1="1798.3" y1="814.0" x2="1810.0" y2="814.0"/>
<line x1="1798.3" y1="670.3" x2="1810.0" y2="670.3"/>
<line x1="1798.3" y1="526.5" x2="1810.0" y2="526.5"/>
<line x1="1798.3" y1="382.8" x2="1810.0" y2="382.8"/>
<line x1="1798.3" y1="239.0" x2="1810.0" y2="239.0"/>
<line x1="1798.3" y1="95.3" x2="1810.0" y2="95.3"/>
</g>
</g>
<g class="ax">
<text x="139.2" y="1090.4" text-anchor="middle">0</text>
<text x="439.6" y="1090.4" text-anchor="middle">50</text>
<text x="739.9" y="1090.4" text-anchor="middle">100</text>
<text x="1040.3" y="1090.4" text-anchor="middle">150</text>
<text x="1340.6" y="1090.4" text-anchor="middle">200</text>
<text x="1641.0" y="1090.4" text-anchor="middle">250</text>
<text transform="translate(73.0,1006.2) rotate(-90)" text-anchor="middle">0.000</text>
<text transform="translate(73.0,781.8) rotate(-90)" text-anchor="middle">0.005</text>
<text transform="translate(73.0,557.4) rotate(-90)" text-anchor="middle">0.010</text>
<text transform="translate(73.0,332.9) rotate(-90)" text-anchor="middle">0.015</text>
<text transform="translate(73.0,108.5) rotate(-90)" text-anchor="middle">0.020</text>
<text x="1822.6" y="965.2">-20</text>
<text x="1822.6" y="821.4">-10</text>
<text x="1822.6" y="677.7">0</text>
<text x="1822.6" y="533.9">10</text>
<text x="1822.6" y="390.2">20</text>
<text x="1822.6" y="246.4">30</text>
<text x="1822.6" y="102.7">40</text>
<text x="937.2" y="1146.6" text-anchor="middle">Serum total 25(OH)D concentrations (nmol/L)</text>
<text transform="translate(21.7,525.6) rotate(-90)" text-anchor="middle">Density</text>
<text transform="translate(1894.8,525.4) rotate(-90)" text-anchor="middle">PHR</text>
</g>
<g class="note">
<text x="1417.2" y="62.8">P-nonlinear = 0.224</text>
<text x="1418.6" y="109.6">P = 0.063</text>
</g>
</svg>
</body></html>
